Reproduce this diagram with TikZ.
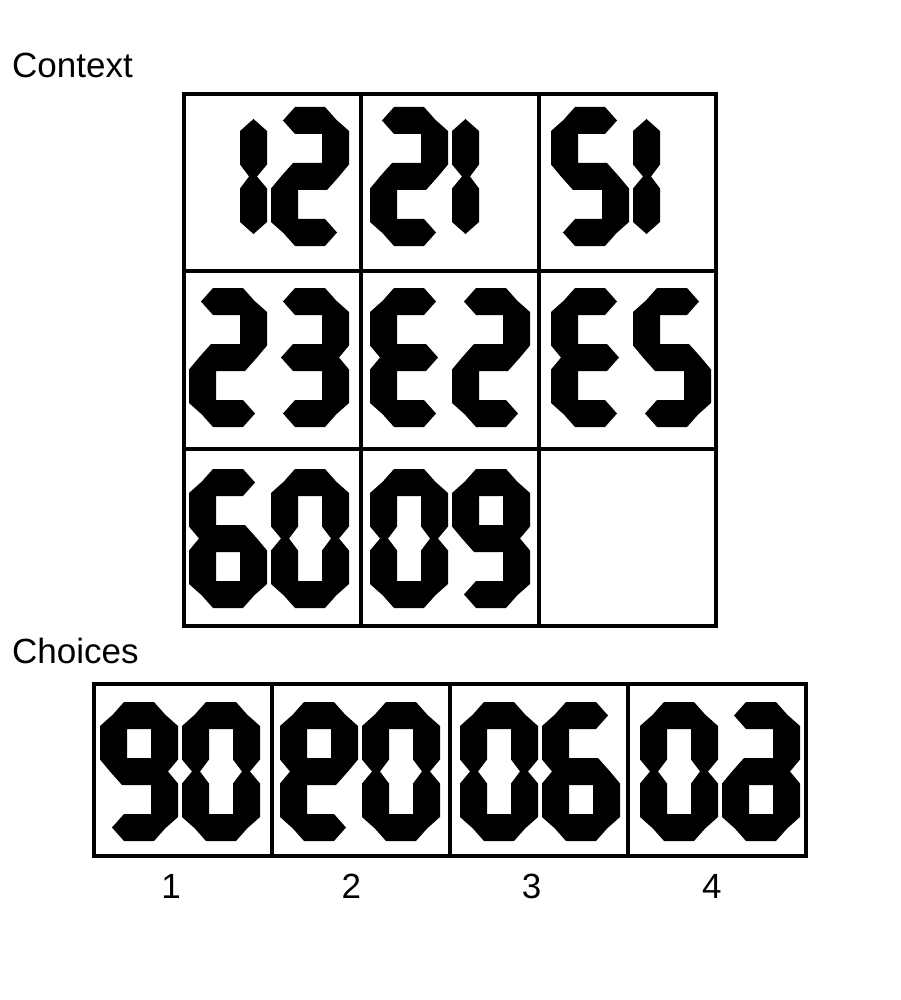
\documentclass[tikz,border=0pt]{standalone}
\usepackage{fontspec}
\setmainfont{Liberation Sans}
\usetikzlibrary{positioning}

\newcommand{\dsega}{(12,13.5) -- (24,0) -- (54,0) -- (66,13.5) -- (54,27) -- (24,27) -- cycle}
\newcommand{\dsegg}{(10,69.5) -- (22,56) -- (56,56) -- (68,69.5) -- (56,83) -- (22,83) -- cycle}
\newcommand{\dsegd}{(12,125.5) -- (24,112) -- (54,112) -- (66,125.5) -- (54,139) -- (24,139) -- cycle}
\newcommand{\dsegf}{(13.5,12) -- (27,24) -- (27,57.5) -- (18,69.5) -- (10,69.5) -- (0,57.5) -- (0,24) -- cycle}
\newcommand{\dsege}{(10,69.5) -- (18,69.5) -- (27,81.5) -- (27,115) -- (13.5,127) -- (0,115) -- (0,81.5) -- cycle}
\newcommand{\dsegb}{(64.5,12) -- (78,24) -- (78,57.5) -- (68,69.5) -- (60,69.5) -- (51,57.5) -- (51,24) -- cycle}
\newcommand{\dsegc}{(60,69.5) -- (68,69.5) -- (78,81.5) -- (78,115) -- (64.5,127) -- (51,115) -- (51,81.5) -- cycle}
\newcommand{\segdigit}[3]{\fill[seg,shift={(#1,#2)}] \foreach \q in {#3} {\csname dseg\q\endcsname};}
\newcommand{\digitpair}[4]{\segdigit{#1}{#2}{#3}\segdigit{#1+82}{#2}{#4}}

\begin{document}
\begin{tikzpicture}[x=1pt,y=-1pt,
  cell/.style={draw,line width=4pt,minimum width=177.5pt,minimum height=177.5pt,inner sep=0pt},
  choice cell/.style={cell,minimum width=178pt,minimum height=172pt},
  seg/.style={fill=black},
  lbl/.style={font=\fontsize{35}{42}\selectfont,inner sep=0pt}]

  \useasboundingbox[fill=white] (0,0) rectangle (900,1000);

  \node[lbl,anchor=base west] (context) at (12,78) {Context};
  \node[lbl,anchor=base west] (choices) at (12,663) {Choices};

  \foreach \r in {0,1,2}
    \foreach \c in {0,1,2}
      \node[cell] (g\r\c) at (272.55+177.5*\c,182.55+177.5*\r) {};

  \foreach \c in {0,...,3}
    \node[choice cell] (ch\c) at (183+178*\c,770) {};

  \foreach \c/\n in {0/1,1/2,2/3,3/4}
    \node[lbl,anchor=base] (num\n) at (171+180.3*\c,898) {\n};

  % context
  \digitpair{189}{107}{b,c}{a,b,g,e,d}
  \digitpair{370}{107}{a,b,g,e,d}{f,e}
  \digitpair{551}{107}{a,f,g,c,d}{f,e}
  \digitpair{189}{288}{a,b,g,e,d}{a,b,g,c,d}
  \digitpair{370}{288}{a,f,g,e,d}{a,b,g,e,d}
  \digitpair{551}{288}{a,f,g,e,d}{a,f,g,c,d}
  \digitpair{189}{469}{a,f,g,e,c,d}{a,b,c,d,e,f}
  \digitpair{370}{469}{a,b,c,d,e,f}{a,b,c,d,f,g}

  % choices
  \digitpair{100}{702}{a,b,c,d,f,g}{a,b,c,d,e,f}
  \digitpair{280}{702}{a,b,f,g,e,d}{a,b,c,d,e,f}
  \digitpair{460}{702}{a,b,c,d,e,f}{a,f,g,e,c,d}
  \digitpair{640}{702}{a,b,c,d,e,f}{a,b,g,c,d,e}
\end{tikzpicture}
\end{document}
